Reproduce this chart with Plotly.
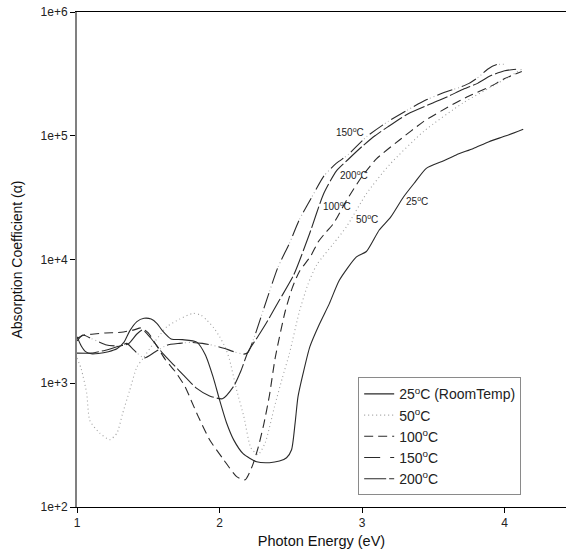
import math
import plotly.graph_objects as go

# Photon energy (eV) and absorption coefficient for each annealing temperature
e25 = [1.0, 1.03, 1.06, 1.1, 1.15, 1.22, 1.28, 1.33, 1.37, 1.42, 1.47, 1.52, 1.56, 1.6, 1.66,
       1.74, 1.84, 1.9, 1.955, 2.0, 2.05, 2.1, 2.165, 2.26, 2.35, 2.42, 2.47, 2.505, 2.53, 2.55,
       2.586, 2.633, 2.7, 2.77, 2.84, 2.96, 3.03, 3.12, 3.2, 3.29, 3.37, 3.45, 3.56, 3.66, 3.78,
       3.89, 4.01, 4.13]
a25 = [2380, 2000, 1800, 1730, 1740, 1800, 1900, 2150, 2650, 3150, 3350, 3300, 3050, 2650, 2280,
       2250, 2150, 1700, 1120, 733, 475, 347, 270, 232, 228, 235, 250, 290, 478, 776,
       1200, 1970, 3000, 4400, 6800, 10500, 11600, 17300, 22000, 32000, 42000, 54500, 62000, 70000, 79000,
       89600, 100000, 113000]

e50 = [1.0, 1.03, 1.068, 1.09, 1.16, 1.23, 1.28, 1.32, 1.37, 1.42, 1.465, 1.55, 1.63, 1.72, 1.815,
       1.87, 1.91, 1.96, 2.0, 2.04, 2.07, 2.12, 2.17, 2.22, 2.27, 2.32, 2.385, 2.44, 2.49, 2.56,
       2.62, 2.68, 2.8, 2.89, 3.03, 3.19, 3.43, 3.71, 3.95, 4.12]
a50 = [1600, 1300, 830, 500, 395, 350, 395, 570, 880, 1350, 1600, 2200, 2860, 3300, 3670,
       3550, 3240, 2800, 2380, 1950, 1550, 880, 540, 300, 265, 330, 645, 1100, 1740, 3800,
       6300, 9000, 13500, 18400, 34000, 58000, 108000, 185000, 265000, 345000]

e100 = [1.0, 1.05, 1.12, 1.2, 1.31, 1.4, 1.45, 1.5, 1.56, 1.62, 1.69, 1.76, 1.8, 1.85, 1.93,
        2.03, 2.12, 2.18, 2.23, 2.27, 2.31, 2.35, 2.39, 2.46, 2.51, 2.56, 2.64, 2.69, 2.73, 2.8,
        2.89, 3.0, 3.1, 3.26, 3.43, 3.6, 3.75, 3.9, 4.0, 4.12]
a100 = [2300, 2450, 2500, 2550, 2580, 2700, 2800, 2550, 2000, 1550, 1240, 930, 730, 540, 350,
        240, 176, 166, 215, 300, 466, 800, 1600, 3800, 5900, 8000, 10700, 13800, 15800, 19600,
        30000, 47000, 65000, 92000, 130000, 170000, 210000, 250000, 290000, 330000]

e150 = [1.0, 1.04, 1.1, 1.2, 1.3, 1.35, 1.4, 1.47, 1.55, 1.63, 1.72, 1.8, 1.88, 1.95, 2.03,
        2.1, 2.17, 2.2, 2.24, 2.33, 2.41, 2.49, 2.56, 2.66, 2.73, 2.82, 2.9, 3.03, 3.18, 3.32,
        3.45, 3.59, 3.68, 3.75, 3.82, 3.88, 3.94, 4.0]
a150 = [2200, 2450, 2300, 2050, 2000, 2100, 1850, 1600, 1800, 2030, 2100, 2140, 2100, 2030, 1920,
        1800, 1720, 1780, 2300, 4700, 8700, 13500, 21000, 34000, 47000, 60000, 70000, 98000, 130000, 162000,
        195000, 227000, 245000, 265000, 300000, 345000, 375000, 378000]

e200 = [1.0, 1.1, 1.2, 1.3, 1.36, 1.42, 1.46, 1.52, 1.6, 1.68, 1.745, 1.84, 1.93, 2.02, 2.1,
        2.15, 2.2, 2.27, 2.33, 2.42, 2.52, 2.63, 2.73, 2.82, 2.9, 3.0, 3.09, 3.18, 3.32, 3.5,
        3.6, 3.7, 3.81, 3.9, 4.0, 4.08]
a200 = [1750, 1750, 1850, 2000, 2080, 2500, 2700, 2300, 1750, 1400, 1170, 910, 790, 750, 950,
        1260, 1800, 2400, 3100, 4700, 7500, 16000, 34000, 52000, 64000, 82000, 100000, 118000, 150000, 185000,
        207000, 235000, 265000, 305000, 335000, 345000]

y_ticks = [1e2, 1e3, 1e4, 1e5, 1e6]
y_tick_text = ["1e+2", "1e+3", "1e+4", "1e+5", "1e+6"]
x_ticks = [1, 2, 3, 4]

# curve labels: (text, energy, alpha)
curve_labels = [
    ("150<sup>o</sup>C", 2.915, 1.07e5),
    ("200<sup>o</sup>C", 2.94, 4.8e4),
    ("100<sup>o</sup>C", 2.825, 2.7e4),
    ("50<sup>o</sup>C", 3.035, 2.12e4),
    ("25<sup>o</sup>C", 3.386, 2.97e4),
]

FONT = "Liberation Sans, Arial, sans-serif"
DARK = "#2a2a2a"

fig = go.Figure()


def add_curve(x, y, name, color, dash, width=1.1, showlegend=True):
    fig.add_trace(go.Scatter(
        x=x, y=y, mode="lines", name=name, showlegend=showlegend,
        line=dict(color=color, width=width, dash=dash, shape="spline", smoothing=0.6),
        hoverinfo="skip",
    ))


add_curve(e25, a25, "25<sup>o</sup>C (RoomTemp)", DARK, "solid")
add_curve(e50, a50, "50<sup>o</sup>C", "#a0a0a0", "1px,3px", width=1.1)
add_curve(e100, a100, "100<sup>o</sup>C", DARK, "9px,5px")
add_curve(e150, a150, "150<sup>o</sup>C", DARK, "16px,10px")
# faint dots in the gaps of the 150 °C dash pattern
add_curve(e150, a150, "150 dots", "#b0b0b0", "0px,18px,1px,3px,1px,3px", showlegend=False)
add_curve(e200, a200, "200<sup>o</sup>C", DARK, "22px,3px")

# annotations on a log axis take log10 of the data value
for text, ex, ay in curve_labels:
    fig.add_annotation(x=ex, y=math.log10(ay), text=text, showarrow=False,
                       font=dict(family=FONT, size=10, color="#222"))

fig.update_layout(
    width=566, height=552,
    margin=dict(l=77, r=0, t=12, b=45),
    paper_bgcolor="white", plot_bgcolor="white",
    font=dict(family=FONT, size=12, color="#222"),
    legend=dict(
        x=0.575, y=0.262, xanchor="left", yanchor="top",
        bordercolor="#8a8a8a", borderwidth=1, bgcolor="white",
        font=dict(family=FONT, size=14, color="#222"),
        tracegroupgap=0, itemwidth=30,
    ),
)

fig.update_xaxes(
    range=[1, 4.43], tickvals=x_ticks, ticktext=[str(v) for v in x_ticks],
    ticks="outside", ticklen=5, tickcolor="black", showgrid=False, zeroline=False,
    showline=True, linecolor="black", linewidth=1, mirror=True,
    tickfont=dict(family=FONT, size=12, color="#222"),
    title=dict(text="Photon Energy (eV)", font=dict(family=FONT, size=14.5, color="#111"), standoff=6),
)
fig.update_yaxes(
    type="log", range=[2, 6], tickvals=y_ticks, ticktext=y_tick_text,
    ticks="outside", ticklen=5, tickcolor="black", showgrid=False, zeroline=False,
    showline=True, linecolor="#808080", linewidth=2, mirror=False,
    tickfont=dict(family=FONT, size=12, color="#222"),
    title=dict(text="Absorption Coefficient (\u03b1)", font=dict(family=FONT, size=14, color="#111"), standoff=15),
)

fig.write_html("out.html")
